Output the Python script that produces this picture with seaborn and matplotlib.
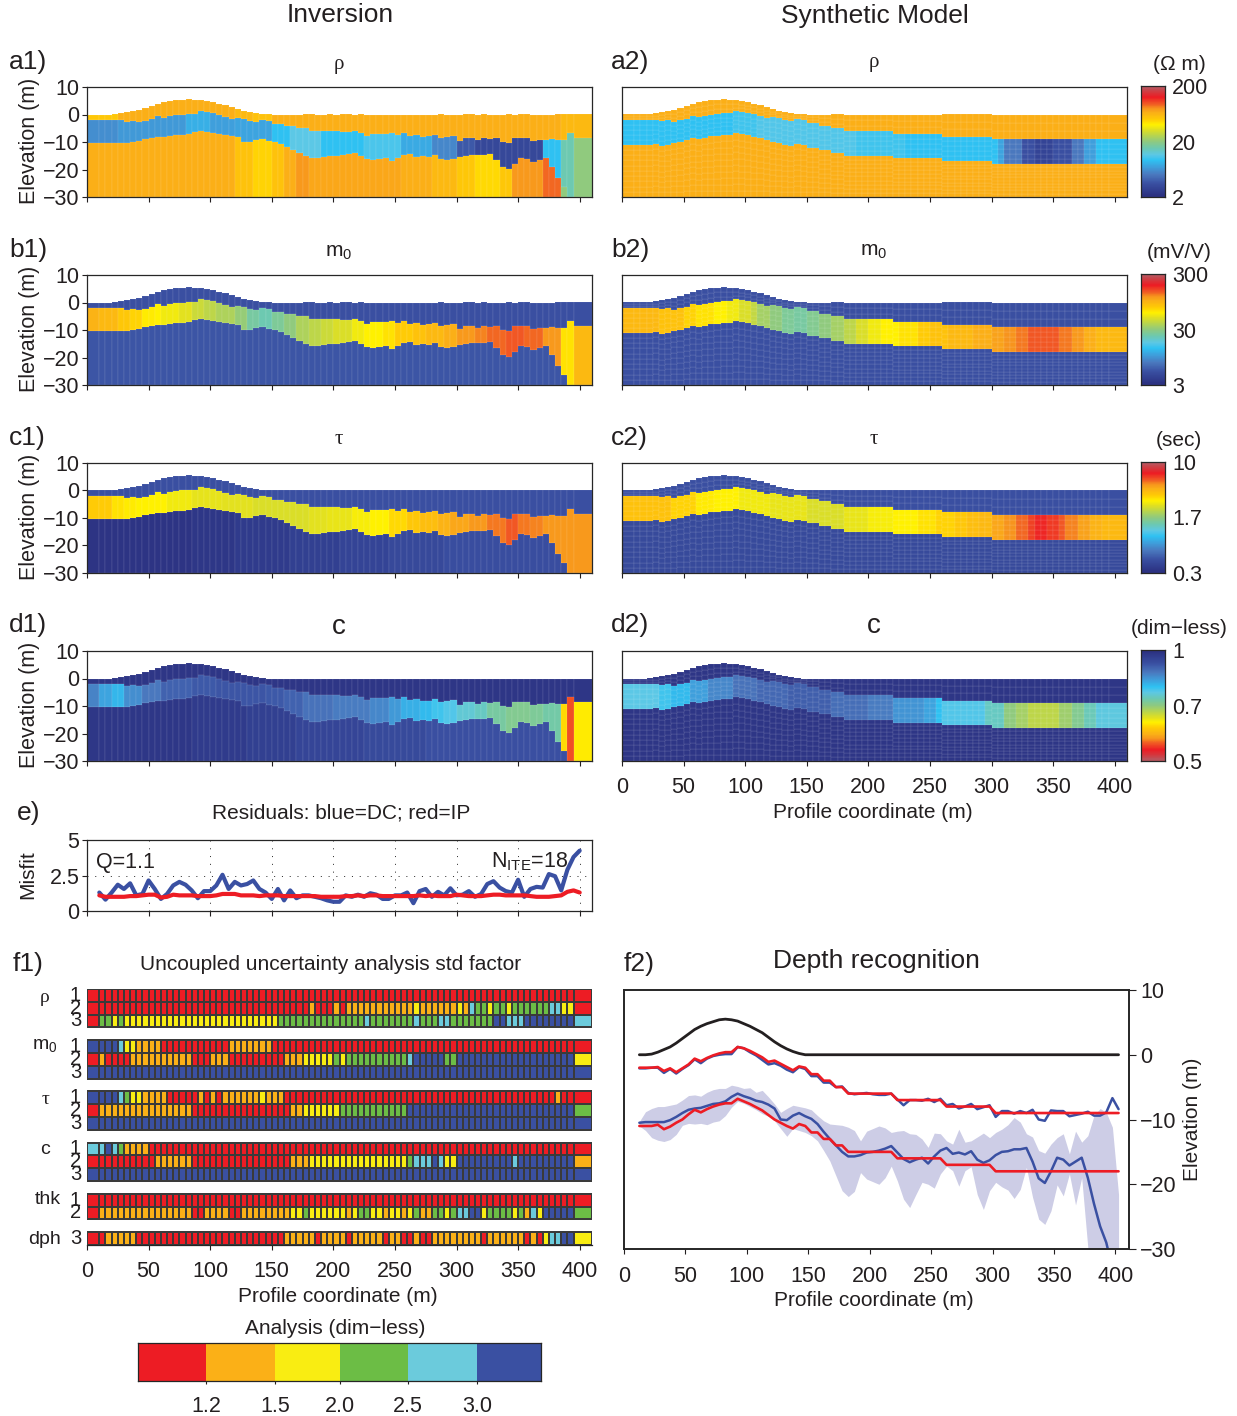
import numpy as np
import matplotlib
matplotlib.use("Agg")
import matplotlib.pyplot as plt
from matplotlib.colors import LinearSegmentedColormap, ListedColormap
import seaborn as sns

W, H = 1237, 1416
sns.set_theme(style="ticks", rc={"axes.linewidth": 0.9, "xtick.major.width": 0.8, "ytick.major.width": 0.8,
                                 "xtick.major.size": 3.5, "ytick.major.size": 3.5})
plt.rcParams["font.family"] = ["Liberation Sans", "DejaVu Sans"]
plt.rcParams["text.color"] = "#231f20"
plt.rcParams["xtick.color"] = "#231f20"
plt.rcParams["ytick.color"] = "#231f20"
plt.rcParams["xtick.labelcolor"] = "#231f20"
plt.rcParams["ytick.labelcolor"] = "#231f20"

# ---------- profile geometry (m), sampled every 5 m ----------
coord = [12.5 + 5 * k for k in range(79)]
topo = [0, 0, 0.1, 0.4, 0.8, 1.2, 1.8, 2.5, 3.2, 3.9, 4.4, 4.8, 5.1, 5.4, 5.5, 5.4, 5.2, 4.8, 4.4, 3.9,
        3.4, 2.7, 2.0, 1.4, 0.9, 0.5, 0.2, 0] + [0] * 51
true_top = [-2, -2, -2, -1.9, -2.5, -2.1, -2.7, -2.1, -1.5, -.6, -1, -.5, -.1, .2, .4, .4, 1.2, 1, .6, .1,
            -.4, -1.1, -.9, -1.4, -1.9, -2.4, -1.8, -2, -3, -3, -4, -4, -5, -5, -6] \
    + [-6] * 7 + [-7] * 8 + [-8] * 8 + [-9] * 21
true_bot = [-11, -11, -11, -10.8, -11.5, -11.1, -10.5, -10, -9.2, -8.5, -8.9, -8.4, -8, -7.7, -7.5, -7.5, -6.8,
            -7.2, -7.6, -8.1, -8.6, -9.3, -10, -10.5, -11, -11.4, -10.7, -11, -12, -12, -13, -13, -14, -14, -15] \
    + [-15] * 7 + [-16] * 8 + [-17] * 8 + [-18] * 21
inv_top = [-2.1, -2.1, -2, -2, -2.8, -2.2, -2.9, -2.2, -1.6, -.7, -1.3, -.6, -.2, 0, .1, .1, 1.2, 1, .4, -.1,
           -.8, -1.5, -1.3, -1.7, -2.3, -2.7, -1.9, -2.2, -3.3, -3.3, -4.3, -4.3, -5, -4.9, -5.9,
           -6.1, -6, -5.9, -6.1, -6.2, -6.2, -6,
           -6.9, -7.8, -7, -7, -7.1, -6.8, -7.3, -6.8,
           -7.8, -7.6, -8.3, -8, -7.6, -8.4, -8.1, -7.8,
           -9.6, -8.7, -8.7, -9.1, -8.7, -9, -8.5, -10, -10.2, -8.6, -8.7, -8.7, -9.5, -9.3, -9.1, -8.8,
           -9.4, -9.4, -8.9, -6.7, -8.4]
inv_bot = [-10.5, -10.4, -10.4, -10.4, -10.4, -10.1, -9.6, -9, -8.5, -8.3, -8.2, -7.9, -7.6, -7.5, -7.2, -6.5, -6,
           -6.4, -6.7, -7.1, -7.3, -7.7, -8.3, -10, -10.1, -9.4, -9, -9.5, -9.9, -10.7, -11.9, -13, -14, -15, -15.7,
           -15.7, -15.5, -15.1, -15, -14.8, -14.5, -14.1, -15.1, -16.1, -16.6, -16.2, -15.9, -16.8, -15.7, -14.8,
           -14.4, -15.3, -15.1, -15.4, -14.9, -16.2, -16.7, -16.3, -15.5, -15, -14.9, -14.6, -14.6, -14.4, -16.5,
           -19.1, -19.8, -18, -15.9, -16.2, -17.1, -16.5, -15.9, -19, -23, -26.5, -29, -33, -35]
band_up = [-10.3, -8.8, -8.3, -8, -8, -7.8, -7.6, -7, -6.3, -6.2, -6.4, -5.8, -5.4, -5.2, -5.2, -4.7, -4.9, -5.2,
           -5.1, -5.8, -5.5, -6.5, -7.6, -8.9, -8.3, -7.8, -8, -8.2, -8.5, -9.4, -10.2, -10.7, -10.8, -10.9, -11.2,
           -11.7, -13.3, -11.8, -11.4, -11, -11.3, -12, -11.8, -11.7, -12.2, -12.3, -13, -14.3, -12.1, -12.2, -13.3,
           -13.8, -11.5, -13.5, -13.3, -12.7, -12.1, -12.8, -12, -11.5, -10.8, -9.7, -10.4, -12.2, -12.7, -14.8,
           -15.2, -13.8, -12.8, -12.2, -15.3, -11.8, -13.5, -12.5, -9.4, -8.3, -8.9, -11.2, -21.6]
band_lo = [-11, -11.7, -12.8, -13.2, -13.4, -13.1, -12.3, -10.9, -10.6, -10.7, -10.6, -10.8, -10.4, -10.2, -9.4, -8.1,
           -7.2, -7.5, -8, -8.5, -9.1, -9.5, -10.2, -11.4, -12.6, -11.4, -11.7, -12, -12.5, -13.3, -14.8, -16.4, -18.7,
           -21, -21.9, -21.1, -18.2, -19.2, -19.6, -20, -19, -17.2, -19.5, -22.3, -23.6, -21.6, -19.7, -20, -20.6,
           -18.4, -17.2, -17.9, -20.3, -17.9, -17.3, -21.6, -23.9, -21, -19.7, -20.4, -20.9, -22.2, -20.8, -17.4, -22,
           -25.4, -26.2, -24.1, -20.1, -21.8, -18.4, -23.2, -19, -29.8, -40, -40, -40, -40, -40]

# ---------- misfit ----------
misfit_x = [10 + 5 * k for k in range(79)]
misfit_dc = [1.3, .8, 1.3, 1.85, 1.55, 1.95, 1.1, 1.2, 2.15, 1.55, .85, 1.2, 1.8, 2.05, 1.85, 1.45, .9, 1.4, 1.4, 1.8,
             2.55, 1.55, 2.05, 1.8, 1.9, 2.15, 1.55, 1.3, .85, 1.55, .75, 1.45, .9, 1.1, 1.1, 1, .9, .75, .65, .65,
             1.1, 1, 1.15, 1, 1.25, 1.15, .85, .85, 1.1, 1.1, 1.3, .55, 1.4, 1.55, 1, 1.35, 1.1, 1.6, 1.1, 1.15,
             1.4, 1, 1.2, 1.9, 2.1, 1.65, 1.4, 1.3, 2.2, 1, 1.55, 1.7, 1.65, 2.6, 2.45, 1.45, 2.9, 3.8, 4.25]
misfit_ip = [1.1, 1, 1, 1, 1, 1.05, 1.05, 1.1, 1.15, 1.15, .95, 1, 1.15, 1.1, 1.1, 1.1, 1.05, 1.05, 1.05, 1.1,
             1.2, 1.2, 1.2, 1.1, 1.1, 1.1, 1.05, 1.1, 1.1, 1.1, 1.05, 1.05, 1.05, 1.05, 1.05, 1.05, 1, 1, 1, 1,
             1.05, 1.05, 1.1, 1.05, 1.1, 1.1, 1.05, 1.05, 1.05, 1.05, 1.05, 1.05, 1.1, 1.05, 1.1, 1.05, 1.05, 1.05,
             1.15, 1.1, 1.05, 1.05, 1.05, 1.1, 1.15, 1.15, 1.1, 1.1, 1.1, 1.1, 1.05, 1, 1, 1, 1.05, 1.1, 1.35, 1.45, 1.3]

# ---------- section colour levels: (profile coordinate up to, position on the colour bar) ----------
a1_L1 = [(25, .71), (120, .76), (135, .74), (150, .72), (385, .76), (410, .74)]
a1_L2 = [(24, .24), (81, .26), (100, .3), (119, .27), (150, .28), (166, .33), (191, .38), (223, .33), (255, .36),
         (278, .29), (299, .23), (315, .14), (372, .09), (387, .33), (397, .44), (410, .5)]
a1_L3 = [(119, .76), (135, .72), (150, .69), (160, .72), (170, .76), (180, .79), (255, .77), (280, .76), (300, .74),
         (315, .71), (335, .68), (345, .71), (372, .79), (387, .83), (410, .5)]
b1_L1 = [(410, .12)]
b1_L2 = [(12, .75), (27, .74), (37, .71), (46, .69), (55, .66), (62, .65), (75, .63), (87, .61), (97, .58), (106, .56),
         (118, .54), (131, .51), (140, .46), (150, .44), (160, .47), (169, .5), (180, .54), (191, .56), (202, .58),
         (213, .6), (226, .63), (238, .65), (251, .67), (264, .7), (277, .72), (288, .74), (299, .76), (313, .79),
         (327, .81), (340, .83), (355, .84), (372, .83), (387, .79), (397, .67), (410, .74)]
b1_L3 = [(410, .13)]
c1_L1 = [(410, .12)]
c1_L2 = [(20, .7), (30, .67), (40, .66), (65, .65), (85, .63), (110, .615), (134, .61), (160, .6), (180, .6), (195, .61),
         (213, .62), (230, .64), (245, .65), (258, .68), (270, .71), (283, .73), (296, .75), (312, .77), (327, .79),
         (340, .82), (352, .84), (362, .82), (372, .81), (410, .79)]
c1_L3 = [(87, .02), (120, .035), (166, .05), (205, .065), (245, .08), (290, .095), (410, .11)]
d1_L1 = [(410, .03)]
d1_L2 = [(11, .22), (20, .28), (30, .31), (45, .24), (62, .2), (85, .16), (106, .14), (144, .13), (160, .14), (175, .16),
         (200, .19), (229, .21), (245, .23), (255, .26), (268, .3), (280, .32), (290, .35), (299, .37), (313, .4),
         (327, .42), (340, .46), (358, .48), (372, .47), (387, .45), (392, .68), (397, .85), (410, .66)]
d1_L3 = [(87, .035), (130, .05), (172, .065), (225, .085), (277, .1), (410, .12)]
a2_L1 = [(410, .76)]
a2_L2 = [(90, .33), (110, .35), (190, .37), (230, .35), (303, .33), (312, .28), (323, .2), (335, .12), (350, .08),
         (363, .12), (373, .2), (383, .27), (410, .33)]
a2_L3 = [(410, .76)]
b2_L1 = [(410, .12)]
b2_L2 = [(30, .74), (50, .72), (62, .69), (75, .67), (85, .65), (95, .63), (103, .6), (110, .57), (120, .53), (130, .5),
         (140, .47), (150, .46), (160, .48), (170, .5), (180, .53), (190, .56), (200, .6), (210, .63), (225, .65),
         (240, .67), (252, .7), (265, .72), (285, .74), (300, .76), (310, .78), (320, .8), (330, .82), (345, .84),
         (355, .84), (365, .82), (375, .79), (385, .76), (410, .74)]
b2_L3 = [(410, .12)]
c2_L1 = [(410, .12)]
c2_L2 = [(40, .72), (60, .69), (75, .66), (95, .65), (120, .63), (150, .62), (180, .6), (200, .62), (220, .64), (240, .65),
         (255, .67), (268, .69), (280, .71), (292, .73), (300, .74), (310, .77), (320, .8), (328, .83), (335, .86),
         (345, .89), (355, .87), (362, .84), (370, .81), (378, .78), (388, .75), (410, .74)]
c2_L3 = [(410, .1)]
d2_L1 = [(410, .03)]
d2_L2 = [(28, .38), (39, .35), (57, .32), (72, .27), (88, .23), (110, .19), (137, .17), (169, .15), (202, .18), (218, .21),
         (244, .25), (254, .28), (262, .33), (293, .37), (312, .42), (322, .5), (332, .53), (353, .56), (363, .52),
         (373, .48), (384, .43), (410, .39)]
d2_L3 = [(410, .03)]

# ---------- uncertainty classes per cell ----------
rho1 = "R" * 79
rho2 = "R"*35 + "O" + "R"*3 + "O" + "R" + "O"*11 + "Y" + "O"*6 + "Y" + "O" + "C" + "G"*2 + "Y" + "G"*2 + "Y" + "G"*6 + "C"*2 + "Y"*2 + "R"
rho3 = "R" + "G"*2 + "Y" + "G" + "Y"*25 + "G"*14 + "C" + "G"*7 + "C" + "G"*3 + "C"*2 + "G"*7 + "B"*2 + "C"*3 + "B"*8 + "C"
m01 = "B"*4 + "C" + "Y"*2 + "O"*4 + "R"*11 + "O"*7 + "R"*50
m02 = "R" + "O" + "R"*4 + "O"*10 + "R"*3 + "O"*3 + "R"*9 + "O"*3 + "Y"*5 + "G" + "Y" + "G"*10 + "C" + "B"*5 + "G"*2 + "B"*19 + "Y"
m03 = "B" * 79
tau1 = "B"*4 + "C" + "G" + "Y"*2 + "O"*4 + "R"*5 + "O" + "R" + "O" + "R" + "O"*6 + "Y" + "O"*3 + "R"*44 + "O" + "R"*3
tau2 = "R" + "O"*15 + "R"*16 + "O"*2 + "Y"*6 + "G"*11 + "B"*27 + "G"
tau3 = "B" * 79
c1 = "C"*2 + "B" + "C" + "G" + "O"*4 + "R"*70
c2 = "R"*10 + "O"*6 + "R"*16 + "O"*3 + "Y"*16 + "G" + "C"*3 + "B" + "C" + "Y"*2 + "B"*9 + "C" + "B"*9 + "O"
c3 = "B" * 79
thk1 = "R" * 79
thk2 = "R" + "O"*15 + "R"*2 + "O"*4 + "R"*2 + "O"*8 + "Y"*2 + "G" + "Y"*6 + "O" + "Y" + "G"*2 + "Y"*2 + "O" + "Y"*2 + "O" + "Y" + "G" + "O"*2 + "G"*2 + "Y" + "G" + "C"*2 + "B"*2 + "Y" + "G"*4 + "Y" + "G" + "O" + "C" + "Y" + "B"*5 + "G"
dph3 = "R"*2 + "O"*5 + "R"*24 + "O"*5 + "R" + "O"*4 + "R" + "O"*5 + "R" + "O"*2 + "R"*2 + "O" + "R"*2 + "O"*8 + "R" + "O"*6 + "R" + "O" + "R" + "Y" + "C"*2 + "B"*2 + "Y"
class_order = "ROYGCB"
class_colors = ["#ed1c24", "#fbb017", "#f9ed12", "#6cbd45", "#6bcbdc", "#3a50a2"]
class_ticks = ["1.2", "1.5", "2.0", "2.5", "3.0"]
class_edges = [0, 68, 137, 202, 270, 339, 403]

# ---------- colour scale ----------
cmap = LinearSegmentedColormap.from_list("section", [
    (0, "#2a2e7e"), (.12, "#3a50a2"), (.2, "#4a78be"), (.27, "#3f9fdc"), (.33, "#2fc1f2"), (.38, "#5cc8e6"),
    (.44, "#6dc9b0"), (.5, "#8fca80"), (.56, "#bcd64a"), (.61, "#e2e020"), (.65, "#fff200"), (.70, "#ffcc05"),
    (.76, "#fbb017"), (.80, "#f7941d"), (.84, "#f15a24"), (.90, "#ed1c24"), (.95, "#d23a40"), (1, "#b0606a")])

edges = np.r_[0, np.arange(10, 396, 5), 410]
centers = (edges[:-1] + edges[1:]) / 2
widths = np.diff(edges)

TICK = 15.5
LAB = 15


def ax_px(x0, y0, x1, y1):
    return fig.add_axes([x0 / W, 1 - y1 / H, (x1 - x0) / W, (y1 - y0) / H])


def txt(x, y, s, size=LAB, ha="center", va="center", rot=0, family=None):
    if rot:
        x += 2
    else:
        y += 2
    kw = {"family": family} if family else {}
    fig.text(x / W, 1 - y / H, s, fontsize=size, ha=ha, va=va, rotation=rot, **kw)


def cols(p):
    p = np.asarray(p, float)
    return np.r_[p[0], p[:76], p[77:]]


def levels(seg):
    out = []
    for c in centers:
        out.append(next(v for end, v in seg if c <= end))
    return np.array(out)


def layer(ax, top, bot, seg, nsub):
    colors = cmap(levels(seg))
    step = (top - bot) / nsub
    for i in range(nsub):
        ax.bar(centers, step, bottom=bot + i * step, width=widths, color=colors,
               edgecolor=(1, 1, 1, 0.18), linewidth=0.35)


def section(rect, b1, b2, L1, L2, L3, synth, show_y, show_x=False):
    ax = ax_px(*rect)
    t = cols(topo)
    b1 = cols(b1)
    b2 = np.maximum(cols(b2), -30)
    n = (3, 5, 10) if synth else (1, 1, 1)
    layer(ax, t, b1, L1, n[0])
    layer(ax, b1, b2, L2, n[1])
    layer(ax, b2, np.full_like(b2, -30.0), L3, n[2])
    ax.set_xlim(0, 410)
    ax.set_ylim(-30, 10)
    ax.set_xticks(range(0, 401, 50))
    ax.set_yticks([-30, -20, -10, 0, 10])
    ax.set_yticklabels(["\u221230", "\u221220", "\u221210", "0", "10"], fontsize=TICK)
    ax.tick_params(axis="y", pad=2, left=show_y, labelleft=show_y)
    ax.tick_params(axis="x", labelbottom=show_x, labelsize=TICK, pad=8)
    return ax


fig = plt.figure(figsize=(W / 100, H / 100), dpi=100)

rows_y = [(87, 197), (275, 385), (463, 573), (651, 761)]
inv = [(a1_L1, a1_L2, a1_L3), (b1_L1, b1_L2, b1_L3), (c1_L1, c1_L2, c1_L3), (d1_L1, d1_L2, d1_L3)]
syn = [(a2_L1, a2_L2, a2_L3), (b2_L1, b2_L2, b2_L3), (c2_L1, c2_L2, c2_L3), (d2_L1, d2_L2, d2_L3)]
for i, (y0, y1) in enumerate(rows_y):
    section((87, y0, 592, y1), inv_top, inv_bot, *inv[i], synth=False, show_y=True)
    section((622, y0, 1127, y1), true_top, true_bot, *syn[i], synth=True, show_y=False, show_x=(i == 3))
    txt(27, (y0 + y1) / 2 - 1, "Elevation (m)", 15.5, rot=90)

# colour bars
bar_units = ["(\u03a9 m)", "(mV/V)", "(sec)", "(dim\u2212less)"]
bar_ticks = [["2", "20", "200"], ["3", "30", "300"], ["0.3", "1.7", "10"], ["0.5", "0.7", "1"]]
grad = (np.arange(28) + .5) / 28
for i, (y0, y1) in enumerate(rows_y):
    ax = ax_px(1141, y0 - 1, 1165, y1)
    g = grad if i < 3 else grad[::-1]
    ax.imshow(g[:, None], cmap=cmap, vmin=0, vmax=1, aspect="auto", origin="lower", extent=(0, 1, 0, 1),
              interpolation="bilinear")
    ax.set_xticks([])
    ax.yaxis.tick_right()
    ax.set_yticks([0, .5, 1])
    ax.set_yticklabels(bar_ticks[i], fontsize=TICK)
    ax.tick_params(axis="y", length=0, pad=5)
    txt(1179, y0 - 24, bar_units[i], LAB)

# panel titles and labels
txt(340, 13, "Inversion", 19)
txt(875, 14, "Synthetic Model", 19)
for (lab1, lab2, ttl, tsize, fam), y in zip([("a1)", "a2)", "\u03c1", 15, "Liberation Serif"),
                                             ("b1)", "b2)", r"$\mathregular{m_0}$", 15, None),
                                             ("c1)", "c2)", "\u03c4", 15, "Liberation Serif"),
                                             ("d1)", "d2)", "c", 20, None)], [60, 248, 436, 623]):
    txt(9, y, lab1, 19, ha="left")
    txt(611, y, lab2, 19, ha="left")
    txt(339, y + 2, ttl, tsize, family=fam)
    txt(874, y + 1, ttl, tsize, family=fam)
txt(873, 810, "Profile coordinate (m)", LAB)

# e) misfit
ax = ax_px(87, 840, 592, 911)
ax.grid(True, color="#222222", linestyle=(0, (1, 7)), linewidth=0.7)
sns.lineplot(x=misfit_x, y=misfit_dc, ax=ax, color="#3a50a2", linewidth=3, errorbar=None)
sns.lineplot(x=misfit_x, y=misfit_ip, ax=ax, color="#ed1c24", linewidth=3, errorbar=None)
ax.set_xlim(0, 410)
ax.set_ylim(0, 5)
ax.set_xticks(range(0, 401, 50))
ax.set_xticklabels([])
ax.set_yticks([0, 2.5, 5])
ax.set_yticklabels(["0", "2.5", "5"], fontsize=TICK)
ax.tick_params(axis="y", pad=2)
ax.text(7, 3.4, "Q=1.1", fontsize=15.5, ha="left", va="center")
ax.text(328, 3.5, r"$\mathregular{N_{ITE}}$=18", fontsize=15.5, ha="left", va="center")
txt(17, 811, "e)", 19, ha="left")
txt(341, 811, "Residuals: blue=DC; red=IP", LAB)
txt(26, 875, "Misfit", LAB, rot=90)

# f1) uncertainty table
ax = ax_px(87, 989, 592, 1245)
class_cmap = ListedColormap(class_colors)
table = [(rho1, 0), (rho2, 1), (rho3, 2), (m01, 4), (m02, 5), (m03, 6), (tau1, 8), (tau2, 9), (tau3, 10),
         (c1, 12), (c2, 13), (c3, 14), (thk1, 16), (thk2, 17), (dph3, 19)]
for codes, row in table:
    vals = np.array([[class_order.index(ch) for ch in codes]])
    mesh = ax.pcolormesh(edges, [row, row + 1], vals, cmap=class_cmap, vmin=-.5, vmax=5.5)
    mesh.set_edgecolor("#3a3a3a")
    mesh.set_linewidth(0.35)
ax.set_xlim(0, 410)
ax.set_ylim(20, 0)
ax.set_yticks([])
ax.set_xticks(range(0, 401, 50))
ax.tick_params(axis="x", labelsize=TICK, pad=8)
for s in ("left", "right", "top"):
    ax.spines[s].set_visible(False)
row_h = 12.8
row_labels = ["1", "2", "3", "1", "2", "3", "1", "2", "3", "1", "2", "3", "1", "2", "3"]
for (codes, row), lab in zip(table, row_labels):
    txt(81, 987 + (row + .5) * row_h, lab, 14.5, ha="right")
for y, lab, xx, fam in [(996, "\u03c1", 45, "Liberation Serif"), (1044, r"$\mathregular{m_0}$", 45, None),
                        (1098, "\u03c4", 46, "Liberation Serif"), (1148, "c", 45, None),
                        (1198, "thk", 48, None), (1237, "dph", 44, None)]:
    txt(xx, y, lab, 14, family=fam)
txt(13, 962, "f1)", 19, ha="left")
txt(331, 962, "Uncoupled uncertainty analysis std factor", LAB)
txt(338, 1295, "Profile coordinate (m)", LAB)

# horizontal legend bar
ax = ax_px(138, 1343, 541, 1381)
ax.pcolormesh(class_edges, [0, 1], [list(range(6))], cmap=class_cmap, vmin=-.5, vmax=5.5)
ax.set_xlim(0, 403)
ax.set_ylim(0, 1)
ax.set_yticks([])
ax.set_xticks(class_edges[1:6])
ax.set_xticklabels(class_ticks, fontsize=TICK)
ax.tick_params(axis="x", length=2.5, pad=8)
txt(335, 1327, "Analysis (dim\u2212less)", LAB)

# f2) depth recognition
ax = ax_px(624, 990, 1129, 1249)
ax.fill_between(coord, band_lo, band_up, color="#cdcde6", linewidth=0)
sns.lineplot(x=coord, y=topo, ax=ax, color="#231f20", linewidth=2, errorbar=None)
sns.lineplot(x=coord, y=inv_top, ax=ax, color="#3a50a2", linewidth=1.8, errorbar=None)
sns.lineplot(x=coord, y=inv_bot, ax=ax, color="#3a50a2", linewidth=1.8, errorbar=None)
sns.lineplot(x=coord, y=true_top, ax=ax, color="#ed1c24", linewidth=1.9, errorbar=None)
sns.lineplot(x=coord, y=true_bot, ax=ax, color="#ed1c24", linewidth=1.9, errorbar=None)
ax.set_xlim(0, 411)
ax.set_ylim(-30, 10)
ax.set_xticks(range(0, 401, 50))
ax.yaxis.tick_right()
ax.set_yticks([-30, -20, -10, 0, 10])
ax.set_yticklabels(["\u221230", "\u221220", "\u221210", "0", "10"], fontsize=TICK)
ax.tick_params(axis="x", labelsize=TICK, pad=9)
ax.tick_params(axis="y", pad=3, length=5)
for s in ax.spines.values():
    s.set_linewidth(1.4)
txt(624, 962, "f2)", 19, ha="left")
txt(876, 959, "Depth recognition", 19)
txt(874, 1299, "Profile coordinate (m)", LAB)
txt(1190, 1119, "Elevation (m)", LAB, rot=90)

for name, arr in dict(topo=topo, true_top=true_top, true_bot=true_bot, inv_top=inv_top, inv_bot=inv_bot,
                      band_up=band_up, band_lo=band_lo, dc=misfit_dc, ip=misfit_ip).items():
    assert len(arr) == 79, (name, len(arr))
for codes, row in table:
    assert len(codes) == 79, (row, len(codes))

fig.savefig("out.png", dpi=100)
